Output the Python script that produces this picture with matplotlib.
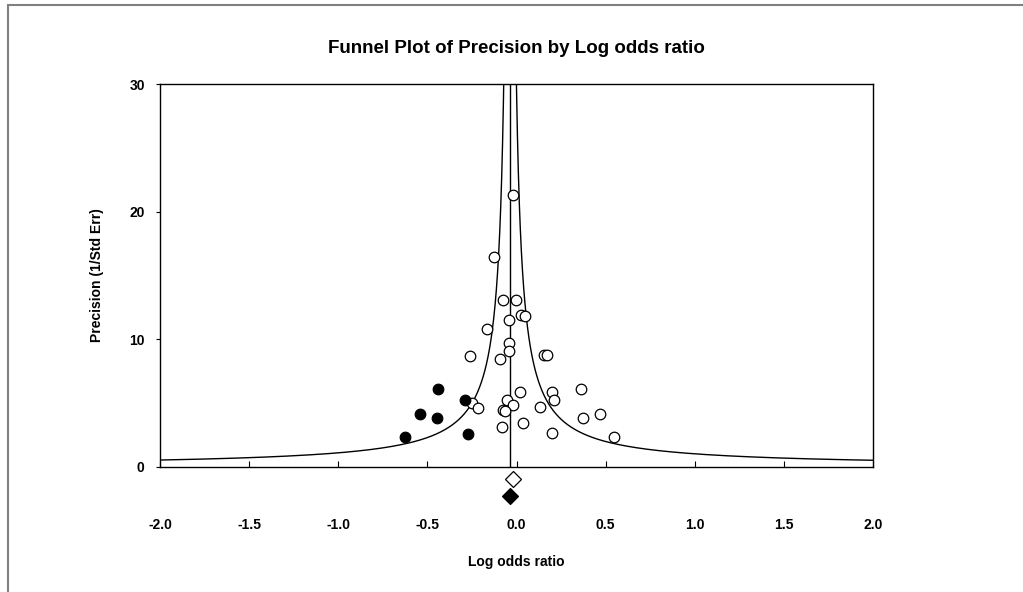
import numpy as np
import matplotlib.pyplot as plt
from matplotlib.patches import Rectangle

# observed studies (open circles)
obs_x = [-0.022, -0.129, -0.075, -0.004, 0.026, 0.045, -0.042, -0.165,
         -0.042, -0.042, -0.262, -0.094, 0.155, 0.172,
         -0.249, -0.214, -0.056, -0.022, -0.075, -0.066, -0.084, 0.019,
         0.039, 0.131, 0.197, 0.213, 0.197, 0.363, 0.371, 0.468, 0.547]
obs_y = [21.3, 16.43, 13.05, 13.1, 11.9, 11.85, 11.48, 10.83,
         9.71, 9.06, 8.70, 8.44, 8.75, 8.75,
         5.02, 4.64, 5.23, 4.84, 4.45, 4.40, 3.15, 5.88,
         3.41, 4.71, 5.86, 5.23, 2.63, 6.12, 3.80, 4.12, 2.37]

# imputed studies (filled circles)
imp_x = [-0.438, -0.543, -0.446, -0.624, -0.289, -0.274]
imp_y = [6.12, 4.12, 3.80, 2.37, 5.23, 2.60]

# summary effects
observed_est = -0.019
adjusted_est = -0.036
funnel_c = 1.07

plt.rcParams['font.family'] = ['Liberation Sans Narrow', 'Liberation Sans', 'DejaVu Sans']
plt.rcParams['font.weight'] = 'bold'

fig = plt.figure(figsize=(10.23, 5.92), dpi=100)
ax = fig.add_axes([160 / 1023, 1 - 467 / 592, 713 / 1023, 383 / 592])

# funnel
p = np.linspace(0.3, 40, 2000)
ax.plot(adjusted_est - funnel_c / p, p, color='black', lw=1)
ax.plot(adjusted_est + funnel_c / p, p, color='black', lw=1)
ax.axvline(adjusted_est, color='black', lw=1)

ax.plot(obs_x, obs_y, 'o', ms=7.6, mfc='white', mec='black', mew=0.9)
ax.plot(imp_x, imp_y, 'o', ms=7.6, mfc='black', mec='black', mew=0.9)

ax.plot([observed_est], [-0.95], 'D', ms=8, mfc='white', mec='black', mew=0.9, clip_on=False)
ax.plot([adjusted_est], [-2.3], 'D', ms=8, mfc='black', mec='black', mew=0.9, clip_on=False)

ax.set_xlim(-2, 2)
ax.set_ylim(0, 30)
ax.set_xticks(np.arange(-2, 2.01, 0.5))
ax.set_xticklabels(['%.1f' % v for v in np.arange(-2, 2.01, 0.5)])
ax.set_yticks([0, 10, 20, 30])
ax.tick_params(axis='x', direction='in', length=4, pad=37, labelsize=10)
ax.tick_params(axis='y', direction='out', length=3, pad=8, labelsize=10)
for s in ax.spines.values():
    s.set_linewidth(1)

ax.set_title('Funnel Plot of Precision by Log odds ratio', fontsize=13.5, fontweight='bold', pad=22)
ax.set_xlabel('Log odds ratio', fontsize=10, fontweight='bold', labelpad=16)
ax.set_ylabel('Precision (1/Std Err)', fontsize=10, fontweight='bold', labelpad=18)

# outer frame
fig.patches.append(Rectangle((8 / 1023, -0.1), 1.2, 1.1 - 5 / 592, transform=fig.transFigure,
                             fill=False, edgecolor='#808080', lw=1.5))

fig.savefig('out.png', dpi=100)
